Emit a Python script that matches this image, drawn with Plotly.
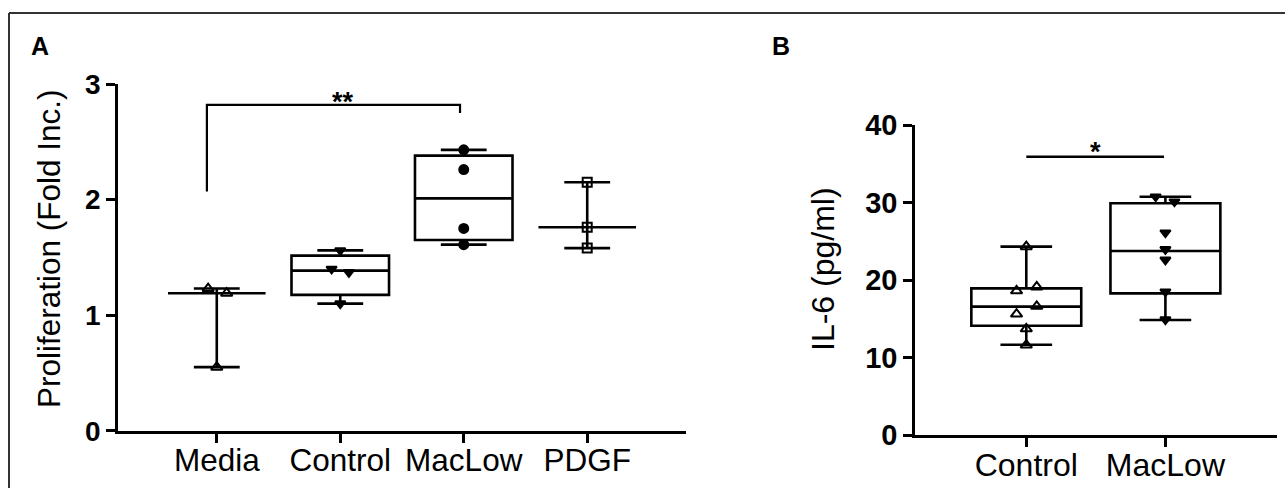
import plotly.graph_objects as go

W, H = 1285, 488
FONT = "Liberation Sans, Arial, Helvetica, sans-serif"

# ---------------- Panel A data ----------------
A_categories = ["Media", "Control", "MacLow", "PDGF"]
A_media = [1.23, 1.19, 0.55]
A_control = [1.56, 1.40, 1.37, 1.10]
A_maclow = [2.43, 2.26, 1.75, 1.61]
A_pdgf = [2.15, 1.76, 1.58]
A_q1 = [1.19, 1.175, 1.65, 1.76]
A_median = [1.19, 1.385, 2.01, 1.76]
A_q3 = [1.19, 1.515, 2.38, 1.76]
A_lower = [0.55, 1.10, 1.61, 1.58]
A_upper = [1.23, 1.56, 2.43, 2.15]
A_yticks = [0, 1, 2, 3]
A_ylabel = "Proliferation (Fold Inc.)"
A_sig_x = [-0.08, -0.08, 1.97, 1.97]
A_sig_y = [2.07, 2.82, 2.82, 2.75]
A_sig_text = "**"

# ---------------- Panel B data ----------------
B_categories = ["Control", "MacLow"]
B_control = [24.3, 19.1, 18.6, 16.6, 15.6, 13.7, 11.6]
B_maclow = [30.75, 30.1, 26.1, 23.96, 22.6, 18.5, 14.9]
B_q1 = [14.1, 18.28]
B_median = [16.56, 23.74]
B_q3 = [18.92, 29.9]
B_lower = [11.65, 14.84]
B_upper = [24.3, 30.75]
B_yticks = [0, 10, 20, 30, 40]
B_ylabel = "IL-6 (pg/ml)"
B_sig_x = [0.0, 0.99]
B_sig_y = [35.9, 35.9]
B_sig_text = "*"

# horizontal scatter offsets of points within each group (GraphPad-like spread)
A_media_dx = [-0.07, 0.08, 0.0]
A_control_dx = [0.0, -0.07, 0.07, 0.0]
A_maclow_dx = [0.0, 0.0, 0.0, 0.0]
A_pdgf_dx = [0.0, 0.0, 0.0]
B_control_dx = [0.0, 0.075, -0.07, 0.075, -0.07, 0.0, 0.0]
B_maclow_dx = [-0.07, 0.065, 0.0, 0.0, 0.0, 0.0, 0.0]

fig = go.Figure()

LW = 2.6
BOXW = 0.79
WHW = 0.47

fig.add_trace(go.Box(
    x=list(range(len(A_categories))), q1=A_q1, median=A_median, q3=A_q3,
    lowerfence=A_lower, upperfence=A_upper, boxpoints=False,
    width=BOXW, whiskerwidth=WHW, fillcolor="rgba(255,255,255,0)",
    line=dict(color="black", width=LW), xaxis="x", yaxis="y",
    showlegend=False, hoverinfo="skip"))

fig.add_trace(go.Box(
    x=list(range(len(B_categories))), q1=B_q1, median=B_median, q3=B_q3,
    lowerfence=B_lower, upperfence=B_upper, boxpoints=False,
    width=BOXW, whiskerwidth=WHW, fillcolor="rgba(255,255,255,0)",
    line=dict(color="black", width=LW), xaxis="x2", yaxis="y2",
    showlegend=False, hoverinfo="skip"))


def pts(idx, vals, dx, symbol, size, xa, ya):
    fig.add_trace(go.Scatter(
        x=[idx + d for d in dx], y=vals, mode="markers",
        marker=dict(symbol=symbol, size=size, color="black",
                    line=dict(color="black", width=2)),
        xaxis=xa, yaxis=ya, showlegend=False, hoverinfo="skip"))


pts(0, A_media, A_media_dx, "triangle-up-open", 10, "x", "y")
pts(1, A_control, A_control_dx, "triangle-down", 9, "x", "y")
pts(2, A_maclow, A_maclow_dx, "circle", 9, "x", "y")
pts(3, A_pdgf, A_pdgf_dx, "square-open", 9, "x", "y")
pts(0, B_control, B_control_dx, "triangle-up-open", 10, "x2", "y2")
pts(1, B_maclow, B_maclow_dx, "triangle-down", 9, "x2", "y2")

# significance brackets
fig.add_trace(go.Scatter(x=A_sig_x, y=A_sig_y, mode="lines",
                         line=dict(color="black", width=2.2),
                         xaxis="x", yaxis="y", showlegend=False, hoverinfo="skip"))
fig.add_trace(go.Scatter(x=B_sig_x, y=B_sig_y, mode="lines",
                         line=dict(color="black", width=2.6),
                         xaxis="x2", yaxis="y2", showlegend=False, hoverinfo="skip"))


def px_x(p):
    return p / W


def px_y(p):
    return (H - p) / H


axis_common = dict(showline=True, linecolor="black", linewidth=LW,
                   ticks="outside", tickcolor="black", tickwidth=LW,
                   showgrid=False, zeroline=False, mirror=False, automargin=False)

fig.update_layout(
    template="none",
    width=W, height=H, autosize=False,
    margin=dict(l=0, r=0, t=0, b=0, pad=0),
    paper_bgcolor="white", plot_bgcolor="white",
    font=dict(family=FONT, color="black"),
    xaxis=dict(domain=[px_x(118), px_x(686)], range=[-0.8, 3.8],
               tickvals=list(range(len(A_categories))), ticktext=A_categories,
               ticklen=9, ticklabelstandoff=-9, tickfont=dict(size=31.5, family=FONT),
               anchor="y", **axis_common),
    yaxis=dict(domain=[px_y(430.7), px_y(84)], range=[0, 3],
               tickvals=A_yticks, ticklen=9,
               tickfont=dict(size=28, family="Liberation Sans, Arial", weight="bold"),
               anchor="x", **axis_common),
    xaxis2=dict(domain=[px_x(915), px_x(1276.7)], range=[-0.8, 1.8],
                tickvals=list(range(len(B_categories))), ticktext=B_categories,
                ticklen=9, ticklabelstandoff=-9, tickfont=dict(size=32, family=FONT),
                anchor="y2", **axis_common),
    yaxis2=dict(domain=[px_y(435), px_y(125)], range=[0, 40],
                tickvals=B_yticks, ticklen=9,
                tickfont=dict(size=29, family="Liberation Sans, Arial", weight="bold"),
                anchor="x2", **axis_common),
)

annotations = [
    dict(text="<b>A</b>", x=px_x(40), y=px_y(46), xref="paper", yref="paper",
         showarrow=False, font=dict(size=25, family=FONT), xanchor="center", yanchor="middle"),
    dict(text="<b>B</b>", x=px_x(781), y=px_y(46), xref="paper", yref="paper",
         showarrow=False, font=dict(size=25, family=FONT), xanchor="center", yanchor="middle"),
    dict(text=A_ylabel, x=px_x(49), y=px_y(249), xref="paper", yref="paper",
         textangle=-90, showarrow=False, font=dict(size=31.5, family=FONT),
         xanchor="center", yanchor="middle"),
    dict(text=B_ylabel, x=px_x(823), y=px_y(269), xref="paper", yref="paper",
         textangle=-90, showarrow=False, font=dict(size=32, family=FONT),
         xanchor="center", yanchor="middle"),
    dict(text="<b>" + A_sig_text + "</b>", x=1.02, y=A_sig_y[1], xref="x", yref="y",
         showarrow=False, font=dict(size=27, family=FONT), xanchor="center",
         yanchor="bottom", yshift=-14),
    dict(text="<b>" + B_sig_text + "</b>", x=0.5, y=B_sig_y[0], xref="x2", yref="y2",
         showarrow=False, font=dict(size=27, family=FONT), xanchor="center",
         yanchor="bottom", yshift=-12),
]
fig.update_layout(annotations=annotations)

# outer figure frame (only top and left edges are visible in the crop)
fig.update_layout(shapes=[
    dict(type="line", xref="paper", yref="paper", x0=px_x(9), x1=1.0,
         y0=px_y(13), y1=px_y(13), line=dict(color="#333333", width=2)),
    dict(type="line", xref="paper", yref="paper", x0=px_x(9), x1=px_x(9),
         y0=px_y(13), y1=0, line=dict(color="#333333", width=2)),
])

fig.write_html("out.html", config={"displayModeBar": False},
               post_script="document.body.style.margin='0';document.body.style.overflow='hidden';")
